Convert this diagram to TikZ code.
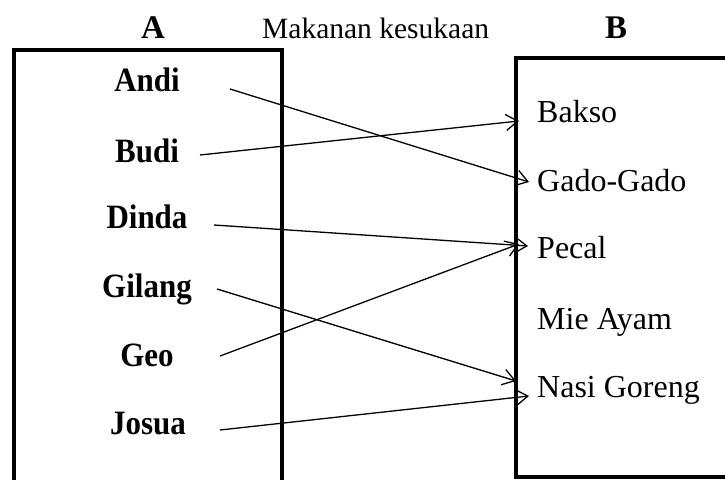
\documentclass[tikz,border=0pt]{standalone}
\usepackage{fontspec}
\setmainfont{Liberation Serif}
\usetikzlibrary{arrows.meta}
\newcommand{\tallname}[1]{\scalebox{1}[1.1]{#1}}
\begin{document}
\begin{tikzpicture}[x=1pt,y=-1pt,
  frame/.style={line width=3.6pt,line cap=round},
  person/.style={font=\fontsize{31}{36}\selectfont\bfseries,anchor=base,inner sep=0pt},
  food/.style={font=\fontsize{32}{37}\selectfont,anchor=base west,inner sep=0pt},
  head/.style={font=\fontsize{33}{38}\selectfont\bfseries,anchor=base,inner sep=0pt},
  link/.style={line width=1.3pt,-{Straight Barb[length=12pt,width=16pt,line width=1.3pt]}}]
\useasboundingbox (0,0) rectangle (725,479);

% headings
\node[head] (ha) at (153,38) {A};
\node[head] (hb) at (616,38) {B};
\node[font=\fontsize{29.5}{34}\selectfont,anchor=base west,inner sep=0pt] (title) at (262,38) {Makanan kesukaan};

% set A (open at the bottom)
\draw[frame] (14,482) -- (14,50) -- (282,50) -- (282,482);
% set B (open on the right)
\draw[frame] (730,58) -- (516,58) -- (516,477) -- (730,477);

% members of A
\node[person] (andi)   at (147,91)  {\tallname{Andi}};
\node[person] (budi)   at (147,162) {\tallname{Budi}};
\node[person] (dinda)  at (147,228) {\tallname{Dinda}};
\node[person] (gilang) at (147,297) {\tallname{Gilang}};
\node[person] (geo)    at (147,366) {\tallname{Geo}};
\node[person] (josua)  at (148,434) {\tallname{Josua}};

% members of B
\node[food] (bakso) at (537,122) {Bakso};
\node[food] (gado)  at (537,191) {Gado-Gado};
\node[food] (pecal) at (537,258) {Pecal};
\node[food] (mie)   at (537,329) {Mie Ayam};
\node[food] (nasi)  at (537,397) {Nasi Goreng};

% connector ends
\coordinate (andi-o)   at (230,89);
\coordinate (budi-o)   at (200,155);
\coordinate (dinda-o)  at (214,225);
\coordinate (gilang-o) at (217,289);
\coordinate (geo-o)    at (220,356);
\coordinate (josua-o)  at (220,430);
\coordinate (bakso-i)  at (519,121);
\coordinate (gado-i)   at (529,182);
\coordinate (pecal-i1) at (528,246);
\coordinate (pecal-i2) at (519,244);
\coordinate (nasi-i1)  at (516,381);
\coordinate (nasi-i2)  at (529,396);

% relation: favourite food
\draw[link] (andi-o)   -- (gado-i);
\draw[link] (budi-o)   -- (bakso-i);
\draw[link] (dinda-o)  -- (pecal-i1);
\draw[link] (geo-o)    -- (pecal-i2);
\draw[link] (gilang-o) -- (nasi-i1);
\draw[link] (josua-o)  -- (nasi-i2);
\end{tikzpicture}
\end{document}
